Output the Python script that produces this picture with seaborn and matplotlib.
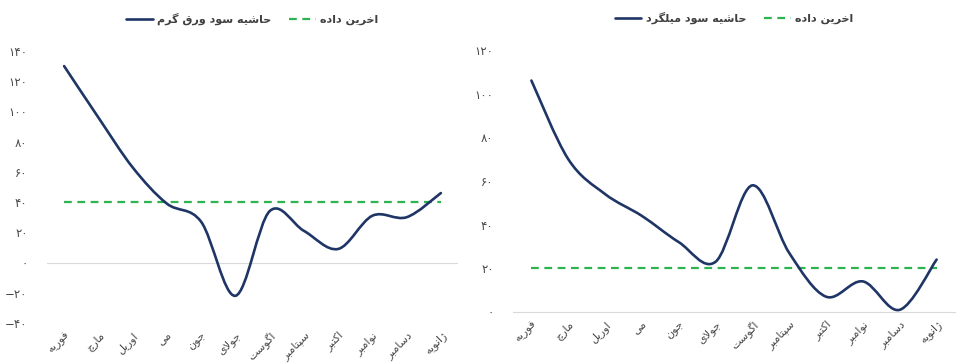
import numpy as np
import pandas as pd
import matplotlib
matplotlib.use('Agg')
import matplotlib.pyplot as plt
from matplotlib.path import Path
from matplotlib.patches import PathPatch
from matplotlib.ticker import FuncFormatter, MultipleLocator
import seaborn as sns

# données
months = ['فوریه', 'مارچ', 'اوریل', 'می', 'جون', 'جولای', 'اگوست',
          'سپتامبر', 'اکتبر', 'نوامبر', 'دسامبر', 'ژانویه']
hot_rolled = [130, 96, 63, 39, 27, -22, 34, 21, 9, 31, 30, 46]
hot_rolled_last = [40, 40, 40, 40, 40, 40, 40, 40, 40, 40, 40, 40]
rebar = [106, 70, 54, 44, 32, 23, 58, 27, 7, 14, 1, 24]
rebar_last = [20, 20, 20, 20, 20, 20, 20, 20, 20, 20, 20, 20]

label_hot = 'حاشیه سود ورق گرم'
label_rebar = 'حاشیه سود میلگرد'
label_last = 'اخرین داده'

NAVY = '#1f3566'
GREEN = '#2db34f'
GREY = '#4a4a4a'

# formes contextuelles arabes/persanes (isolée, finale, initiale, médiane)
FORMS = {
    'ا': ('\uFE8D', '\uFE8E', None, None),
    'ب': ('\uFE8F', '\uFE90', '\uFE91', '\uFE92'),
    'پ': ('\uFB56', '\uFB57', '\uFB58', '\uFB59'),
    'ت': ('\uFE95', '\uFE96', '\uFE97', '\uFE98'),
    'ج': ('\uFE9D', '\uFE9E', '\uFE9F', '\uFEA0'),
    'چ': ('\uFB7A', '\uFB7B', '\uFB7C', '\uFB7D'),
    'ح': ('\uFEA1', '\uFEA2', '\uFEA3', '\uFEA4'),
    'خ': ('\uFEA5', '\uFEA6', '\uFEA7', '\uFEA8'),
    'د': ('\uFEA9', '\uFEAA', None, None),
    'ر': ('\uFEAD', '\uFEAE', None, None),
    'ژ': ('\uFB8A', '\uFB8B', None, None),
    'س': ('\uFEB1', '\uFEB2', '\uFEB3', '\uFEB4'),
    'ش': ('\uFEB5', '\uFEB6', '\uFEB7', '\uFEB8'),
    'ف': ('\uFED1', '\uFED2', '\uFED3', '\uFED4'),
    'ق': ('\uFED5', '\uFED6', '\uFED7', '\uFED8'),
    'ک': ('\uFB8E', '\uFB8F', '\uFB90', '\uFB91'),
    'گ': ('\uFB92', '\uFB93', '\uFB94', '\uFB95'),
    'ل': ('\uFEDD', '\uFEDE', '\uFEDF', '\uFEE0'),
    'م': ('\uFEE1', '\uFEE2', '\uFEE3', '\uFEE4'),
    'ن': ('\uFEE5', '\uFEE6', '\uFEE7', '\uFEE8'),
    'و': ('\uFEED', '\uFEEE', None, None),
    'ه': ('\uFEE9', '\uFEEA', '\uFEEB', '\uFEEC'),
    'ی': ('\uFBFC', '\uFBFD', '\uFBFE', '\uFBFF'),
}


def shape(text):
    out = []
    n = len(text)
    i = 0
    while i < n:
        c = text[i]
        if c not in FORMS:
            out.append(c)
            i += 1
            continue
        prev = text[i - 1] if i > 0 else None
        nxt = text[i + 1] if i + 1 < n else None
        link_prev = prev in FORMS and FORMS[prev][2] is not None
        if c == 'ل' and nxt == 'ا':
            out.append('\uFEFC' if link_prev else '\uFEFB')
            i += 2
            continue
        link_next = FORMS[c][2] is not None and nxt in FORMS
        iso, fin, ini, med = FORMS[c]
        if link_prev and link_next:
            out.append(med)
        elif link_prev:
            out.append(fin)
        elif link_next:
            out.append(ini)
        else:
            out.append(iso)
        i += 1
    return ''.join(reversed(out))


def fa_num(v, pos=None):
    s = str(int(round(v)))
    s = s.translate(str.maketrans('0123456789', '۰۱۲۳۴۵۶۷۸۹'))
    return s.replace('-', '−')


def smooth(ax, line, color, lw):
    # courbe lissée (Catmull-Rom -> Bézier) à partir des points tracés
    pts = line.get_xydata()
    p = np.vstack([pts[0], pts, pts[-1]])
    verts = [tuple(pts[0])]
    codes = [Path.MOVETO]
    for k in range(1, len(p) - 2):
        c1 = p[k] + (p[k + 1] - p[k - 1]) / 6
        c2 = p[k + 1] - (p[k + 2] - p[k]) / 6
        verts += [tuple(c1), tuple(c2), tuple(p[k + 1])]
        codes += [Path.CURVE4] * 3
    patch = PathPatch(Path(verts, codes), fill=False, edgecolor=color,
                      lw=lw, capstyle='round', joinstyle='round', zorder=3)
    ax.add_patch(patch)
    line.set_visible(False)


sns.set_style('white')
plt.rcParams['font.family'] = ['DejaVu Sans']

fig = plt.figure(figsize=(9.63, 3.64), dpi=100)
ax1 = fig.add_axes([0.0488, 0.1126, 0.4268, 0.7473])
ax2 = fig.add_axes([0.5327, 0.1429, 0.4590, 0.7198])

month_lbl = [shape(m) for m in months]

panels = [
    (ax1, hot_rolled, hot_rolled_last, label_hot, (-40, 140)),
    (ax2, rebar, rebar_last, label_rebar, (0, 120)),
]

for ax, serie, last, lbl, ylim in panels:
    df = pd.DataFrame({'mois': month_lbl, 'marge': serie, 'derniere': last})
    sns.lineplot(data=df, x='mois', y='marge', ax=ax, color=NAVY, lw=1.9,
                 label=shape(lbl), sort=False)
    sns.lineplot(data=df, x='mois', y='derniere', ax=ax, color=GREEN, lw=1.6,
                 ls=(0, (3.5, 2.5)), label=shape(label_last), sort=False)
    ax.set_ylim(*ylim)
    ax.set_xlim(-0.5, len(months) - 0.5)
    ax.yaxis.set_major_locator(MultipleLocator(20))
    ax.yaxis.set_major_formatter(FuncFormatter(fa_num))
    ax.set_xlabel('')
    ax.set_ylabel('')
    for s in ['top', 'right', 'left']:
        ax.spines[s].set_visible(False)
    ax.tick_params(axis='y', length=0, pad=14, labelsize=8.5, labelcolor=GREY)
    ax.tick_params(axis='x', length=0, pad=5, labelsize=8, labelcolor=GREY)
    for t in ax.get_xticklabels():
        t.set_rotation(45)
        t.set_ha('right')
        t.set_rotation_mode('anchor')

    leg = ax.legend(loc='lower center', bbox_to_anchor=(0.5, 1.06), ncol=2,
                    frameon=False, handlelength=2.4, handletextpad=0.4,
                    columnspacing=1.6,
                    prop={'size': 8, 'weight': 'bold'})
    for t in leg.get_texts():
        t.set_color('#404040')
    smooth(ax, ax.lines[0], NAVY, 1.9)

ax1.spines['bottom'].set_visible(False)
ax1.axhline(0, color='#d9d9d9', lw=0.8, zorder=1)
ax2.spines['bottom'].set_color('#d9d9d9')
ax2.spines['bottom'].set_linewidth(0.8)

fig.savefig('out.png', dpi=100)
